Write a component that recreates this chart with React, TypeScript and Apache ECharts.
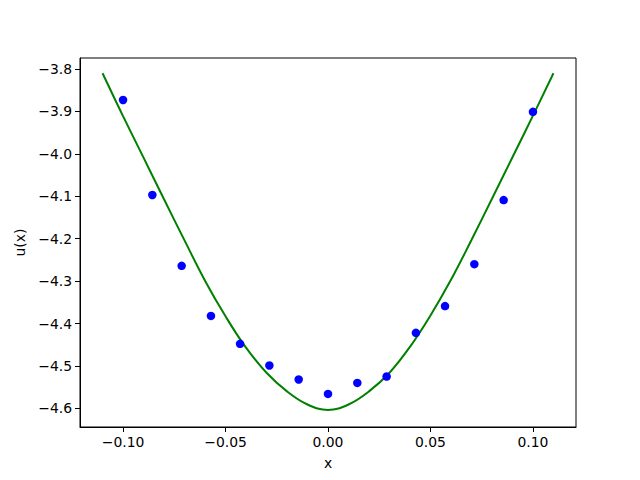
import React, { useEffect, useRef } from "react";
import * as echarts from "echarts";

// Fitted curve u(x) (green line)
const curveX = [-0.11, -0.10, -0.09, -0.08, -0.07, -0.06, -0.05, -0.04, -0.03, -0.02, -0.01, 0.0,
  0.01, 0.02, 0.03, 0.04, 0.05, 0.06, 0.07, 0.08, 0.09, 0.10, 0.11];
const curveY = [-3.810, -3.911, -4.009, -4.107, -4.204, -4.299, -4.383, -4.457, -4.516, -4.560, -4.591, -4.604,
  -4.591, -4.560, -4.516, -4.455, -4.381, -4.297, -4.203, -4.106, -4.008, -3.910, -3.810];

// Sample points (blue dots)
const pointX = [-0.1, -0.0857, -0.0714, -0.0571, -0.0429, -0.0286, -0.0143, 0.0,
  0.0143, 0.0286, 0.0429, 0.0571, 0.0714, 0.0857, 0.1];
const pointY = [-3.873, -4.097, -4.264, -4.382, -4.448, -4.499, -4.532, -4.566,
  -4.540, -4.525, -4.422, -4.359, -4.260, -4.109, -3.901];

const xTicks = [-0.1, -0.05, 0.0, 0.05, 0.1];
const yTicks = [-4.6, -4.5, -4.4, -4.3, -4.2, -4.1, -4.0, -3.9, -3.8];

const FONT = "DejaVu Sans";
const FS = 13.9;

export default function App() {
  const ref = useRef<HTMLDivElement>(null);
  useEffect(() => {
    if (!ref.current) return;
    const chart = echarts.init(ref.current, undefined, { renderer: "svg" });
    const fmt = (d: number) => (v: number) => {
      const s = Math.abs(v) < 1e-9 ? (0).toFixed(d) : v.toFixed(d);
      return s.replace("-", "\u2212");
    };
    chart.setOption({
      animation: false,
      backgroundColor: "#ffffff",
      grid: {
        left: 80,
        right: 64,
        top: 58,
        bottom: 53,
        show: true,
        borderColor: "#000000",
        borderWidth: 1,
        backgroundColor: "transparent",
      },
      xAxis: {
        type: "value",
        min: -0.121,
        max: 0.121,
        name: "x",
        nameLocation: "middle",
        nameGap: 29,
        nameTextStyle: { fontFamily: FONT, fontSize: FS, color: "#000" },
        axisLine: { show: true, onZero: false, lineStyle: { color: "#000", width: 1 } },
        axisTick: { show: true, inside: false, length: 5, customValues: xTicks, lineStyle: { color: "#000", width: 1 } },
        axisLabel: {
          customValues: xTicks,
          margin: 8,
          fontFamily: FONT,
          fontSize: FS,
          color: "#000",
          formatter: fmt(2),
        },
        splitLine: { show: false },
      },
      yAxis: {
        type: "value",
        min: -4.644,
        max: -3.774,
        name: "u(x)",
        nameLocation: "middle",
        nameRotate: 90,
        nameGap: 41,
        nameTextStyle: { fontFamily: FONT, fontSize: FS, color: "#000" },
        axisLine: { show: true, onZero: false, lineStyle: { color: "#000", width: 1 } },
        axisTick: { show: true, inside: false, length: 5, customValues: yTicks, lineStyle: { color: "#000", width: 1 } },
        axisLabel: {
          customValues: yTicks,
          margin: 8,
          fontFamily: FONT,
          fontSize: FS,
          color: "#000",
          formatter: fmt(1),
        },
        splitLine: { show: false },
      },
      series: [
        {
          type: "line",
          data: curveX.map((x, i) => [x, curveY[i]]),
          smooth: 0.4,
          showSymbol: false,
          symbol: "none",
          lineStyle: { color: "#008000", width: 2 },
          z: 2,
        },
        {
          type: "scatter",
          data: pointX.map((x, i) => [x, pointY[i]]),
          symbol: "circle",
          symbolSize: 8.5,
          itemStyle: { color: "#0000ff", opacity: 1 },
          z: 3,
        },
      ],
    });
    return () => chart.dispose();
  }, []);
  return <div ref={ref} style={{ width: 640, height: 480, position: "absolute", left: 0, top: 0 }} />;
}
